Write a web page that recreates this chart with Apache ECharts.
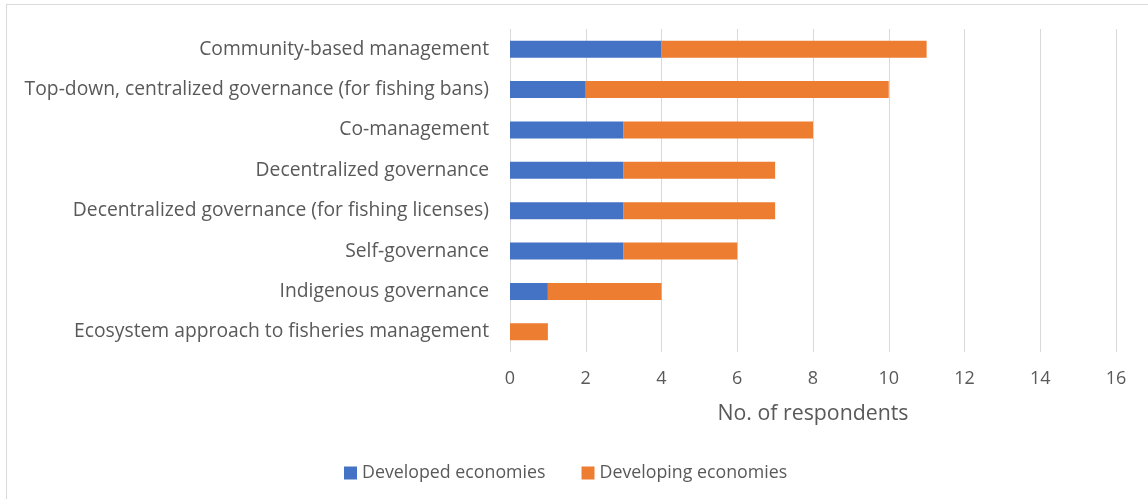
<!DOCTYPE html>
<html>
<head>
<meta charset="utf-8">
<script src="https://cdn.jsdelivr.net/npm/echarts@6/dist/echarts.min.js"></script>
<style>
  html, body { margin: 0; padding: 0; background: #fff; }
  #frame { position: absolute; left: 6px; top: 4px; width: 1160px; height: 520px; border: 1px solid #d9d9d9; box-sizing: border-box; }
  #chart { position: absolute; left: 0; top: 0; width: 1148px; height: 499px; }
</style>
</head>
<body>
<div id="frame"></div>
<div id="chart"></div>
<script>
// Governance approaches, listed bottom-to-top as drawn on the category axis
const categories = [
  'Ecosystem approach to fisheries management',
  'Indigenous governance',
  'Self-governance',
  'Decentralized governance (for fishing licenses)',
  'Decentralized governance',
  'Co-management',
  'Top-down, centralized governance (for fishing bans)',
  'Community-based management'
];
const developed = [0, 1, 3, 3, 3, 3, 2, 4];
const developing = [1, 3, 3, 4, 4, 5, 8, 7];
const seriesNames = ['Developed economies', 'Developing economies'];
const axisTitle = 'No. of respondents';

const FONT = '"Open Sans", sans-serif';
const TEXT = '#595959';

const chart = echarts.init(document.getElementById('chart'), null, { renderer: 'canvas' });
chart.setOption({
  animation: false,
  textStyle: { fontFamily: FONT },
  legend: {
    top: 464,
    left: 344,
    padding: 0,
    itemWidth: 13,
    itemHeight: 13,
    itemGap: 36,
    itemStyle: { borderWidth: 0 },
    icon: 'rect',
    textStyle: { color: TEXT, fontSize: 17.8, fontFamily: FONT },
    data: seriesNames
  },
  grid: { left: 510, right: 32, top: 29, bottom: 147 },
  xAxis: {
    type: 'value',
    min: 0,
    max: 16,
    interval: 2,
    name: axisTitle,
    nameLocation: 'middle',
    nameGap: 51,
    nameTextStyle: { color: TEXT, fontSize: 21.3, fontFamily: FONT },
    axisLine: { show: false },
    axisTick: { show: false },
    axisLabel: { color: TEXT, fontSize: 18, margin: 18, fontFamily: FONT },
    splitLine: { show: true, lineStyle: { color: '#d9d9d9', width: 1 } }
  },
  yAxis: {
    type: 'category',
    data: categories,
    axisLine: { show: false },
    axisTick: { show: false },
    axisLabel: { color: TEXT, fontSize: 19.3, margin: 21, fontFamily: FONT },
    splitLine: { show: false }
  },
  series: [
    {
      name: seriesNames[0],
      type: 'bar',
      stack: 'total',
      barWidth: 17,
      data: developed,
      itemStyle: { color: '#4472C4' }
    },
    {
      name: seriesNames[1],
      type: 'bar',
      stack: 'total',
      barWidth: 17,
      data: developing,
      itemStyle: { color: '#ED7D31' }
    }
  ]
});
</script>
</body>
</html>
